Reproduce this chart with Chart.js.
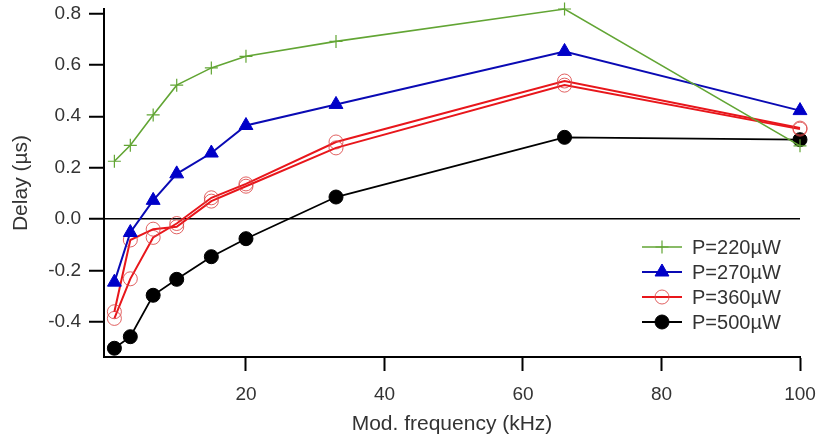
<!DOCTYPE html>
<html>
<head>
<meta charset="utf-8">
<script src="https://cdn.jsdelivr.net/npm/chart.js@4/dist/chart.umd.min.js"></script>
<style>
  html, body { margin: 0; padding: 0; background: #fff; }
  #wrap { width: 818px; height: 439px; }
</style>
</head>
<body>
<div id="wrap"><canvas id="myChart"></canvas></div>
<script>
// modulation frequency in kHz
const FREQ = [1, 3.3, 6.6, 10, 15, 20, 33, 66, 100];
// delay in microseconds
const P220 = [0.225, 0.287, 0.405, 0.521, 0.588, 0.633, 0.691, 0.817, 0.285];
const P270 = [-0.245, -0.052, 0.073, 0.176, 0.257, 0.364, 0.446, 0.652, 0.422];
const P360_A = [-0.36, -0.081, -0.039, -0.03, 0.07, 0.128, 0.277, 0.521, 0.35];
const P360_B = [-0.386, -0.232, -0.071, -0.017, 0.083, 0.137, 0.30, 0.537, 0.354];
const P500 = [-0.502, -0.457, -0.296, -0.234, -0.146, -0.076, 0.086, 0.318, 0.309];
const X_TICKS = [20, 40, 60, 80, 100];
const Y_TICKS = [-0.4, -0.2, 0.0, 0.2, 0.4, 0.6, 0.8];

const pts = (ys) => ys.map((y, i) => ({ x: FREQ[i], y: y }));

const FONT = 'Liberation Sans, Arial, sans-serif';
const TEXT = '#333';

const series = [
    { label: 'P=220\u00b5W', data: pts(P220), borderColor: '#62a534', borderWidth: 1.6,
      pointStyle: 'cross', pointRadius: 6.5, pointBorderWidth: 1.2, pointBorderColor: '#62a534', pointBackgroundColor: '#62a534' },
    { label: 'P=270\u00b5W', data: pts(P270), borderColor: '#0a0ab4', borderWidth: 2,
      pointStyle: 'triangle', pointRadius: 8, pointBorderWidth: 1, pointBorderColor: '#0000c8', pointBackgroundColor: '#0000c8' },
    { label: 'P=360\u00b5W', data: pts(P360_A), borderColor: '#e8161b', borderWidth: 2,
      pointStyle: 'circle', pointRadius: 7, pointBorderWidth: 1, pointBorderColor: 'rgba(220,70,70,0.85)', pointBackgroundColor: 'rgba(0,0,0,0)' },
    { label: '', data: pts(P360_B), borderColor: '#e8161b', borderWidth: 2, noLegend: true,
      pointStyle: 'circle', pointRadius: 7, pointBorderWidth: 1, pointBorderColor: 'rgba(220,70,70,0.85)', pointBackgroundColor: 'rgba(0,0,0,0)' },
    { label: 'P=500\u00b5W', data: pts(P500), borderColor: '#000', borderWidth: 1.8,
      pointStyle: 'circle', pointRadius: 7, pointBorderWidth: 1, pointBorderColor: '#000', pointBackgroundColor: '#000' }
];
series.forEach(s => { s.fill = false; s.tension = 0; s.clip = false; s.showLine = true; });

// legend drawn inside the plot, line + marker like the original
const insideLegend = {
    id: 'insideLegend',
    afterDraw(chart) {
        const ctx = chart.ctx;
        const x0 = 642, x1 = 682, tx = 692;
        let y = 247;
        ctx.save();
        chart.data.datasets.forEach(ds => {
            if (ds.noLegend) return;
            ctx.strokeStyle = ds.borderColor;
            ctx.lineWidth = ds.borderWidth;
            ctx.beginPath();
            ctx.moveTo(x0, y);
            ctx.lineTo(x1, y);
            ctx.stroke();
            ctx.fillStyle = ds.pointBackgroundColor;
            ctx.strokeStyle = ds.pointBorderColor || ds.borderColor;
            ctx.lineWidth = ds.pointBorderWidth;
            Chart.helpers.drawPoint(ctx, {
                pointStyle: ds.pointStyle, radius: ds.pointRadius,
                borderWidth: ds.pointBorderWidth, rotation: 0
            }, (x0 + x1) / 2, y);
            ctx.fillStyle = TEXT;
            ctx.font = '20px ' + FONT;
            ctx.textBaseline = 'middle';
            ctx.textAlign = 'left';
            ctx.fillText(ds.label, tx, y + 1);
            y += 25;
        });
        ctx.restore();
    }
};

const ctx = document.getElementById('myChart');
const myChart = new Chart(ctx, {
    type: 'line',
    data: { datasets: series },
    plugins: [insideLegend],
    options: {
        responsive: true,
        maintainAspectRatio: false,
        animation: false,
        layout: { padding: { left: 0, top: 7, right: 18, bottom: 0 } },
        plugins: { legend: { display: false }, tooltip: { enabled: false } },
        scales: {
            x: {
                type: 'linear',
                min: -0.5,
                max: 100,
                afterBuildTicks: (scale) => { scale.ticks = X_TICKS.map(v => ({ value: v })); },
                afterFit: (scale) => { scale.height = 82; scale.paddingLeft = 0; scale.paddingRight = 0; },
                border: { color: '#000', width: 2 },
                grid: { drawOnChartArea: false, drawTicks: true, tickLength: 14, tickColor: '#000', tickWidth: 2 },
                ticks: { color: TEXT, font: { family: FONT, size: 19 }, padding: 12, maxRotation: 0 },
                title: { display: true, text: 'Mod. frequency (kHz)', color: TEXT,
                         font: { family: FONT, size: 21 }, padding: { top: 0, bottom: 2 } }
            },
            y: {
                type: 'linear',
                min: -0.536,
                max: 0.817,
                afterBuildTicks: (scale) => { scale.ticks = Y_TICKS.map(v => ({ value: v })); },
                afterFit: (scale) => { scale.width = 104; scale.paddingTop = 0; scale.paddingBottom = 0; },
                border: { color: '#000', width: 2 },
                grid: {
                    drawOnChartArea: true, drawTicks: true, tickLength: 15,
                    color: (c) => (c.tick && Math.abs(c.tick.value) < 1e-9) ? '#000' : 'rgba(0,0,0,0)',
                    lineWidth: 1.5, tickColor: '#000', tickWidth: 2
                },
                ticks: { color: TEXT, font: { family: FONT, size: 19 }, padding: 8,
                         callback: (v) => Number(v).toFixed(1) },
                title: { display: true, text: 'Delay (\u00b5s)', color: TEXT,
                         font: { family: FONT, size: 21 }, padding: { top: 9, bottom: 0 } }
            }
        }
    }
});
</script>
</body>
</html>
